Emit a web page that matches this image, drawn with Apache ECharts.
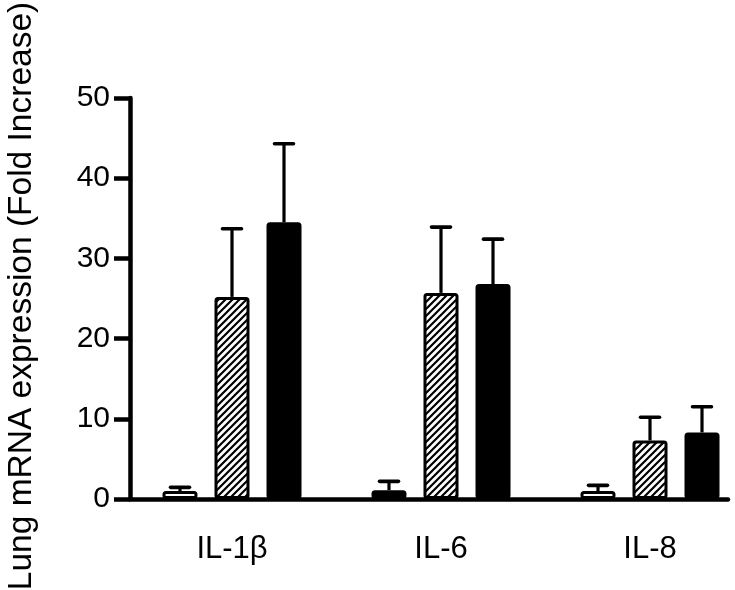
<!DOCTYPE html>
<html>
<head>
<meta charset="utf-8">
<script src="https://cdn.jsdelivr.net/npm/echarts@6/dist/echarts.min.js"></script>
<style>html,body{margin:0;padding:0;background:#fff}#c{width:735px;height:590px}</style>
</head>
<body>
<div id="c"></div>
<script>
var categories = ['IL-1\u03b2', 'IL-6', 'IL-8'];
var yTicks = [0, 10, 20, 30, 40, 50];
var group1 = [1.0, 1.1, 1.0];
var group1Err = [0.45, 1.1, 0.7];
var group2 = [25.2, 25.7, 7.3];
var group2Err = [8.5, 8.2, 2.9];
var group3 = [34.5, 26.8, 8.3];
var group3Err = [9.8, 5.6, 3.2];
var yTitle = 'Lung mRNA expression (Fold Increase)';

var FONT = '"Liberation Sans", Arial, sans-serif';
var BAR_W = 35, BAR_STEP = 52;

function hatch() {
  var s = 7, c = document.createElement('canvas');
  c.width = s; c.height = s;
  var g = c.getContext('2d');
  g.fillStyle = '#fff'; g.fillRect(0, 0, s, s);
  g.strokeStyle = '#000'; g.lineWidth = 2.2;
  g.beginPath();
  g.moveTo(-1, s + 1); g.lineTo(s + 1, -1);
  g.moveTo(-2, 2); g.lineTo(2, -2);
  g.moveTo(s - 2, s + 2); g.lineTo(s + 2, s - 2);
  g.stroke();
  return c;
}

// IL-6 first bar is drawn filled black in the reference
var g1Data = group1.map(function (v, i) {
  return i === 1 ? { value: v, itemStyle: { color: '#000' } } : v;
});

function errSeries(vals, errs, idx) {
  return {
    type: 'custom',
    xAxisIndex: 0, yAxisIndex: 0,
    z: 5,
    data: vals.map(function (v, i) { return [i, v, v + errs[i]]; }),
    renderItem: function (params, api) {
      var base = api.coord([api.value(0), api.value(1)]);
      var top = api.coord([api.value(0), api.value(2)]);
      var x = base[0] + (idx - 1) * BAR_STEP;
      var hw = 9.5;
      return {
        type: 'group',
        children: [
          { type: 'line', shape: { x1: x, y1: base[1], x2: x, y2: top[1] }, style: { stroke: '#000', lineWidth: 3.2 } },
          { type: 'line', shape: { x1: x - hw, y1: top[1], x2: x + hw, y2: top[1] }, style: { stroke: '#000', lineWidth: 3.6, lineCap: 'round' } }
        ]
      };
    }
  };
}

var chart = echarts.init(document.getElementById('c'));
var barStyle = { borderColor: '#000', borderWidth: 3, borderRadius: 2 };
var gap = ((BAR_STEP - BAR_W) / BAR_W * 100).toFixed(1) + '%';
chart.setOption({
  animation: false,
  backgroundColor: '#fff',
  grid: [
    { left: 127.5, top: 98, height: 401, width: 627, containLabel: false, outerBoundsMode: 'none' },
    { left: 130, top: 98, height: 401, width: 598, containLabel: false, outerBoundsMode: 'none' }
  ],
  xAxis: [
    {
      type: 'category', gridIndex: 0, data: categories,
      axisLine: { show: false }, axisTick: { show: false },
      axisLabel: { color: '#000', fontSize: 31, fontFamily: FONT, margin: 35 }
    },
    {
      type: 'value', gridIndex: 1, min: 0, max: 1,
      axisLine: { show: true, lineStyle: { color: '#000', width: 4.5 } },
      axisTick: { show: false }, axisLabel: { show: false }, splitLine: { show: false }
    }
  ],
  yAxis: [
    {
      type: 'value', gridIndex: 0, min: yTicks[0], max: yTicks[yTicks.length - 1], interval: 10,
      show: false, splitLine: { show: false }
    },
    {
      type: 'value', gridIndex: 1, min: yTicks[0], max: yTicks[yTicks.length - 1], interval: 10,
      axisLine: { show: true, lineStyle: { color: '#000', width: 4.5 } },
      axisTick: { show: true, length: 16, lineStyle: { color: '#000', width: 4.5 } },
      axisLabel: { color: '#000', fontSize: 30, fontFamily: FONT, margin: 20 },
      splitLine: { show: false },
      name: yTitle, nameLocation: 'middle', nameRotate: 90, nameGap: 91,
      nameTextStyle: { color: '#000', fontSize: 33.5, fontFamily: FONT, padding: [0, 0, 0, 5] }
    }
  ],
  series: [
    { name: 'Group 1', type: 'bar', data: g1Data, barWidth: BAR_W, barGap: gap,
      itemStyle: Object.assign({ color: '#fff' }, barStyle) },
    { name: 'Group 2', type: 'bar', data: group2, barWidth: BAR_W, barGap: gap,
      itemStyle: Object.assign({ color: { image: hatch(), repeat: 'repeat' } }, barStyle) },
    { name: 'Group 3', type: 'bar', data: group3, barWidth: BAR_W, barGap: gap,
      itemStyle: Object.assign({ color: '#000' }, barStyle) },
    errSeries(group1, group1Err, 0),
    errSeries(group2, group2Err, 1),
    errSeries(group3, group3Err, 2)
  ]
});
</script>
</body>
</html>
